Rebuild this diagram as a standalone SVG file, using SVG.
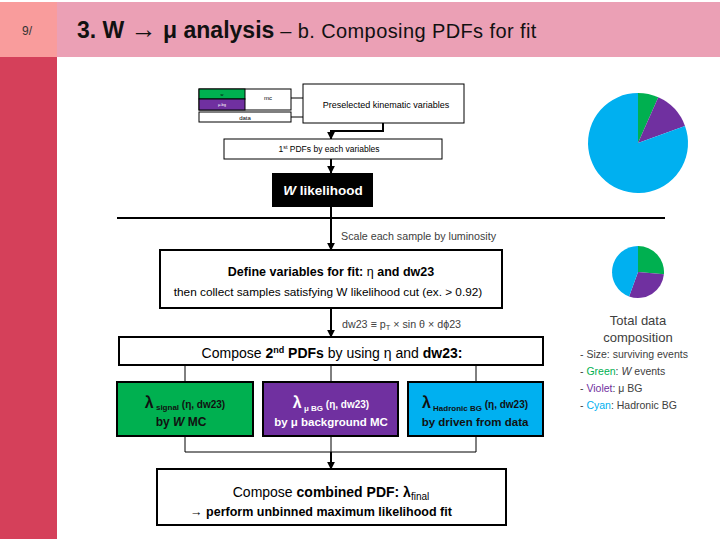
<svg xmlns="http://www.w3.org/2000/svg" width="720" height="540" viewBox="0 0 720 540">
<defs>
<style>
text{font-family:"Liberation Sans","Noto Sans",sans-serif;}
.box{fill:#fff;stroke:#000;stroke-width:2;}
.thin{fill:#fff;stroke:#000;stroke-width:1;}
.ln{fill:none;stroke:#000;stroke-width:2;}
.ln1{fill:none;stroke:#000;stroke-width:1;}
.c{text-anchor:middle;}
.lbl{font-size:10.7px;fill:#404040;}
.b{font-weight:bold;}
.list{font-size:10.5px;fill:#404040;}
</style>
<marker id="ah" viewBox="0 0 10 10" refX="9" refY="5" markerWidth="4" markerHeight="4" orient="auto"><path d="M0,0 L10,5 L0,10 z" fill="#000"/></marker>
</defs>
<rect width="720" height="540" fill="#fff"/>
<g id="header">
<rect x="0" y="2" width="720" height="55" fill="#EBA0B5"/>
<rect x="0" y="2" width="57" height="55" fill="#F99C9C"/>
<rect x="0" y="57" width="57" height="482" fill="#D5405A"/>
<text x="22" y="35" font-size="12" fill="#333">9/</text>
<text x="77" y="38" font-size="23" fill="#111"><tspan font-weight="bold">3. W <tspan font-size="26">→</tspan> μ analysis</tspan><tspan font-size="20" letter-spacing="0.4"> – b. Composing PDFs for fit</tspan></text>
</g>
<g id="connectors">
<path class="ln1" d="M291,98 H303 M291,117 H303"/>
<path class="ln" d="M383,123 V131 H331 V139" marker-end="url(#ah)"/>
<path class="ln" d="M331,159 V173" marker-end="url(#ah)"/>
<path class="ln" d="M331,207 V250" marker-end="url(#ah)"/>
<path class="ln" d="M117,218 H665"/>
<path class="ln" d="M331,308 V337" marker-end="url(#ah)"/>
<path class="ln1" d="M185,365 V382 M331,365 V382 M476,365 V382"/>
<path class="ln1" d="M185,436 V452 H476 V436 M331,436 V452"/>
<path class="ln" d="M331,452 V469" marker-end="url(#ah)"/>
</g>
<g id="mc">
<rect x="199" y="89" width="92" height="21" class="thin"/>
<rect x="199" y="89" width="46" height="10" fill="#00B050" stroke="#000" stroke-width="1"/>
<rect x="199" y="99" width="46" height="11" fill="#7030A0" stroke="#000" stroke-width="1"/>
<text x="222" y="96" font-size="4" fill="#000" class="c">w</text>
<text x="222" y="106" font-size="4" fill="#fff" class="c">μ-bg</text>
<text x="268" y="100" font-size="6" class="c">mc</text>
</g>
<g id="data">
<rect x="199" y="112" width="92" height="10" class="thin"/>
<text x="245" y="119.5" font-size="6" class="c">data</text>
</g>
<g id="preselected">
<rect x="303" y="84" width="161" height="39" class="thin"/>
<text x="386" y="108" font-size="9" class="c">Preselected  kinematic variables</text>
</g>
<g id="pdf1">
<rect x="224" y="139" width="218" height="20" class="thin"/>
<text x="329" y="152" font-size="8.5" class="c">1<tspan font-size="5.5" dy="-3">st</tspan><tspan dy="3"> PDFs  by each variables</tspan></text>
</g>
<g id="wlike">
<rect x="272" y="173" width="101" height="34" fill="#000"/>
<text x="323" y="195" font-size="13.5" fill="#fff" class="c b"><tspan font-style="italic">W</tspan> likelihood</text>
</g>
<text x="341" y="240" class="lbl">Scale each sample by luminosity</text>
<g id="define">
<rect x="160" y="250" width="342" height="58" class="box"/>
<text x="331" y="276" font-size="12.5" class="c"><tspan font-weight="bold">Define variables for fit: </tspan>η<tspan font-weight="bold"> and dw23</tspan></text>
<text x="328" y="296" font-size="11.8" class="c">then collect samples satisfying W likelihood cut (ex. &gt; 0.92)</text>
</g>
<text x="342" y="328" class="lbl">dw23 ≡ p<tspan font-size="7.5" dy="2">T</tspan><tspan dy="-2"> × sin θ × dϕ23</tspan></text>
<g id="compose2">
<rect x="119" y="337" width="424" height="28" class="box"/>
<text x="332" y="358" font-size="14" class="c">Compose <tspan font-weight="bold">2</tspan><tspan font-weight="bold" font-size="9" dy="-5">nd</tspan><tspan font-weight="bold" dy="5"> PDFs</tspan> by using η and <tspan font-weight="bold">dw23:</tspan></text>
</g>
<g id="signal">
<rect x="117" y="382" width="136" height="54" fill="#00B050" stroke="#000" stroke-width="2"/>
<text x="185" y="408" font-size="10" class="c b" fill="#111"><tspan font-size="16">λ</tspan><tspan font-size="8" dy="2"> signal</tspan><tspan dy="-2"> (η, dw23)</tspan></text>
<text x="181" y="426" font-size="12" class="c b" fill="#111">by <tspan font-style="italic">W</tspan> MC</text>
</g>
<g id="mubg">
<rect x="263" y="382" width="135" height="54" fill="#7030A0" stroke="#000" stroke-width="2"/>
<text x="331" y="408" font-size="10" class="c b" fill="#fff"><tspan font-size="16">λ</tspan><tspan font-size="8" dy="3"> μ BG</tspan><tspan dy="-3"> (η, dw23)</tspan></text>
<text x="331" y="426" font-size="11.5" class="c b" fill="#fff">by μ background MC</text>
</g>
<g id="hadbg">
<rect x="408" y="382" width="135" height="54" fill="#00B0F0" stroke="#000" stroke-width="2"/>
<text x="475" y="408" font-size="10" class="c b" fill="#111"><tspan font-size="16">λ</tspan><tspan font-size="8" dy="3"> Hadronic BG</tspan><tspan dy="-3"> (η, dw23)</tspan></text>
<text x="475" y="426" font-size="11.5" class="c b" fill="#111">by driven from data</text>
</g>
<g id="combined">
<rect x="157" y="469" width="349" height="56" class="box"/>
<text x="331" y="497" font-size="14" class="c">Compose <tspan font-weight="bold">combined PDF: λ</tspan><tspan font-size="10" dy="3">final</tspan></text>
<text x="321" y="516" font-size="12.5" class="c b">→ perform unbinned maximum likelihood fit</text>
</g>
<g id="pie1">
<path d="M638,143 L638,93 A50,50 0 0,1 658.3,97.3 Z" fill="#00B050"/>
<path d="M638,143 L658.3,97.3 A50,50 0 0,1 685,125.9 Z" fill="#7030A0"/>
<path d="M638,143 L685,125.9 A50,50 0 1,1 638,93 Z" fill="#00B0F0"/>
</g>
<g id="pie2">
<path d="M638,272 L638,246 A26,26 0 0,1 663.9,274.3 Z" fill="#00B050"/>
<path d="M638,272 L663.9,274.3 A26,26 0 0,1 629.1,296.4 Z" fill="#7030A0"/>
<path d="M638,272 L629.1,296.4 A26,26 0 0,1 638,246 Z" fill="#00B0F0"/>
</g>
<g id="legend">
<text x="638" y="325" font-size="13" fill="#404040" class="c">Total data</text>
<text x="638" y="342" font-size="13" fill="#404040" class="c">composition</text>
<text x="580" y="358" class="list">- Size: surviving events</text>
<text x="580" y="375" class="list">- <tspan fill="#00B050">Green</tspan>: <tspan font-style="italic">W</tspan> events</text>
<text x="580" y="392" class="list">- <tspan fill="#7030A0">Violet</tspan>: μ BG</text>
<text x="580" y="409" class="list">- <tspan fill="#00B0F0">Cyan</tspan>: Hadronic BG</text>
</g>
</svg>
